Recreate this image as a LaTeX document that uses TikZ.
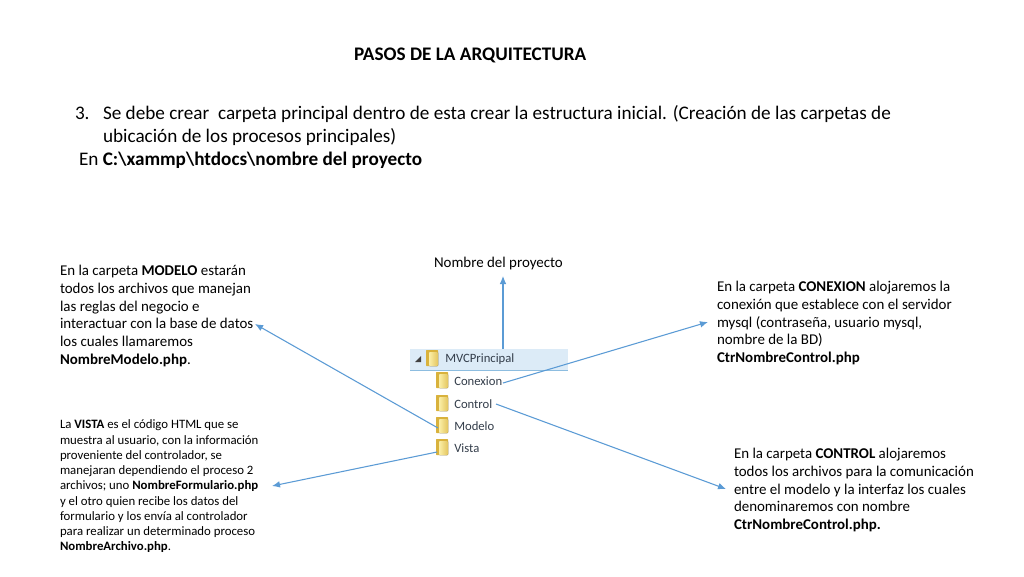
\documentclass[tikz,border=0pt]{standalone}
\usepackage{fontspec}
\setmainfont{Carlito}
\usetikzlibrary{arrows.meta}
\definecolor{arrowblue}{HTML}{5B9BD5}
\definecolor{rowblue}{HTML}{DCEBF7}
\definecolor{rowline}{HTML}{8DBDE0}
\definecolor{folderA}{HTML}{FBEFA8}
\definecolor{folderB}{HTML}{D9B23C}
\definecolor{labelgray}{HTML}{333D4A}
\tikzset{
  x=0.75pt,y=-0.75pt,
  txt/.style={anchor=north west,inner sep=0pt,outer sep=0pt,align=left,text=black},
  big/.style={txt,font=\fontsize{14.4}{17.25}\selectfont},
  mid/.style={txt,font=\fontsize{11.2}{13.4}\selectfont},
  small/.style={txt,font=\fontsize{9.6}{11.44}\selectfont},
  link/.style={draw=arrowblue,line width=0.8pt,-{Latex[length=6pt,width=5pt]}},
  flabel/.style={anchor=west,inner sep=0pt,text=labelgray,font=\fontsize{9.5}{11}\selectfont},
}
\newcommand{\folderat}[1]{%
  \fill[folderB,rounded corners=0.5pt] (#1)++(-6,-8) rectangle ++(12,16);
  \fill[left color=folderA,right color=folderB!70!folderA,rounded corners=0.5pt] (#1)++(-3,-6) rectangle ++(9,14);
}
\begin{document}
\begin{tikzpicture}
\useasboundingbox (0,0) rectangle (1024,576);
\fill[white] (0,0) rectangle (1024,576);

\node[big,font=\fontsize{14.4}{17.25}\selectfont\bfseries] (title) at (354,48) {PASOS DE LA ARQUITECTURA};
\node[big] (num) at (75,103) {\strut 3.};
\node[big] (body) at (103,103) {\strut Se debe crear\ \ carpeta principal dentro de esta crear la estructura inicial. (Creación de las carpetas de\\ubicación de los procesos principales)};
\node[big] (path) at (79,149) {\strut En \textbf{C:\textbackslash xammp\textbackslash htdocs\textbackslash nombre del proyecto}};

\node[mid] (modelo) at (60,265) {En la carpeta \textbf{MODELO} estarán\\todos los archivos que manejan\\las reglas del negocio e\\interactuar con la base de datos\\los cuales llamaremos\\\textbf{NombreModelo.php}.};
\node[small] (vista) at (60,420) {La \textbf{VISTA} es el código HTML que se\\muestra al usuario, con la información\\proveniente del controlador, se\\manejaran dependiendo el proceso 2\\archivos; uno \textbf{NombreFormulario.php}\\y el otro quien recibe los datos del\\formulario y los envía al controlador\\para realizar un determinado proceso\\\textbf{NombreArchivo.php}.};
\node[mid] (proyecto) at (434,257) {Nombre del proyecto};
\node[mid] (conexion) at (717,281) {En la carpeta \textbf{CONEXION} alojaremos la\\conexión que establece con el servidor\\mysql (contraseña, usuario mysql,\\nombre de la BD)\\\textbf{CtrNombreControl.php}};
\node[mid] (control) at (734,448) {En la carpeta \textbf{CONTROL} alojaremos\\todos los archivos para la comunicación\\entre el modelo y la interfaz los cuales\\denominaremos con nombre\\\textbf{CtrNombreControl.php.}};

% folder tree
\fill[rowblue] (410,349) rectangle (568,370);
\draw[rowline,line width=0.6pt] (410,370) -- (568,370);
\fill[black!75] (421,356) -- (421,362) -- (415,362) -- cycle;
\folderat{432,358}
\folderat{442,380}
\folderat{442,403}
\folderat{442,425}
\folderat{442,447}
\node[flabel] (fmvc) at (445,359) {MVCPrincipal};
\node[flabel] (fcon) at (454,381) {Conexion};
\node[flabel] (fctl) at (454,404) {Control};
\node[flabel] (fmod) at (454,426) {Modelo};
\node[flabel] (fvis) at (454,448) {Vista};

% free ends
\coordinate (a1) at (503,349); \coordinate (b1) at (503,276);
\coordinate (a2) at (503,383); \coordinate (b2) at (708,322);
\coordinate (a3) at (496,404); \coordinate (b3) at (726,489);
\coordinate (a4) at (438,428); \coordinate (b4) at (255,324);
\coordinate (a5) at (437,452); \coordinate (b5) at (272,486);
\draw[link] (a1) -- (b1);
\draw[link] (a2) -- (b2);
\draw[link] (a3) -- (b3);
\draw[link] (a4) -- (b4);
\draw[link] (a5) -- (b5);
\end{tikzpicture}
\end{document}
